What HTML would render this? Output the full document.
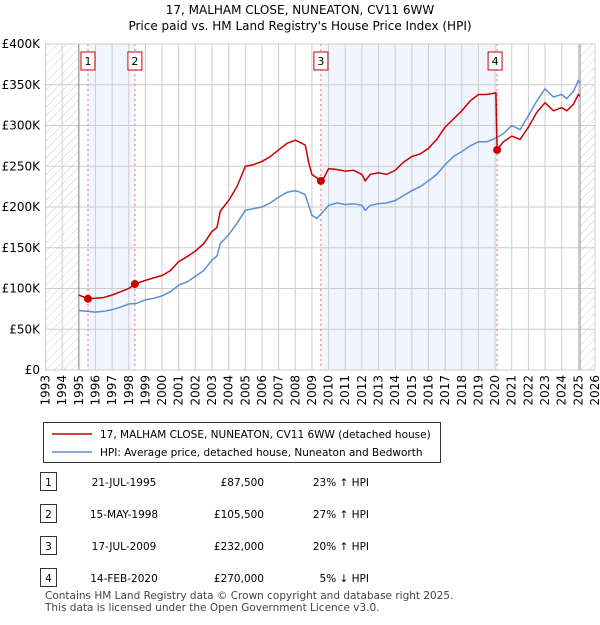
<!DOCTYPE html><html><head><meta charset="utf-8"><style>
body{margin:0;background:#fff;font-family:"Liberation Sans",sans-serif;}
svg text{font-family:"DejaVu Sans","Liberation Sans",sans-serif;}
</style></head><body>
<svg id="c" width="600" height="620" xmlns="http://www.w3.org/2000/svg"></svg>
<script>
const hpiDates=[1995,1995.5,1996,1996.5,1997,1997.5,1998,1998.5,1999,1999.5,2000,2000.5,2001,2001.5,2002,2002.5,2003,2003.3,2003.5,2004,2004.5,2005,2005.5,2006,2006.5,2007,2007.5,2008,2008.3,2008.6,2008.8,2009,2009.3,2009.7,2010,2010.5,2011,2011.5,2012,2012.2,2012.5,2013,2013.5,2014,2014.5,2015,2015.5,2016,2016.5,2017,2017.5,2018,2018.5,2019,2019.5,2020,2020.5,2021,2021.5,2022,2022.5,2023,2023.5,2024,2024.3,2024.7,2025,2025.1];
const hpiValues=[73,72,71,72,74,77,81,82,86,88,91,96,104,108,115,122,135,140,155,166,180,196,198,200,205,212,218,220,218,215,202,190,186,195,202,205,203,204,202,196,202,204,205,208,214,220,225,232,240,252,262,268,275,280,280,284,290,300,295,312,330,345,335,338,333,342,355,352];
const priceDates=[1995,1995.55,1996,1996.5,1997,1997.5,1998,1998.37,1999,1999.5,2000,2000.5,2001,2001.5,2002,2002.5,2003,2003.3,2003.5,2004,2004.5,2005,2005.5,2006,2006.5,2007,2007.5,2008,2008.3,2008.6,2008.8,2009,2009.54,2009.7,2010,2010.5,2011,2011.5,2012,2012.2,2012.5,2013,2013.5,2014,2014.5,2015,2015.5,2016,2016.5,2017,2017.5,2018,2018.5,2019,2019.5,2020.05,2020.12,2020.5,2021,2021.5,2022,2022.5,2023,2023.5,2024,2024.3,2024.7,2025,2025.1];
const priceValues=[92,87.5,88,89,92,96,100,105.5,110,113,116,122,133,139,146,155,170,175,195,208,225,250,252,256,262,270,278,282,279,276,255,240,232,235,247,246,244,245,240,232,240,242,240,245,255,262,265,272,283,298,308,318,330,338,338,340,270,280,287,283,298,316,328,318,322,318,326,338,336];
const saleDates=[1995.55,1998.37,2009.54,2020.12];
const saleValues=[87.5,105.5,232,270];
const saleLabels=["1","2","3","4"];
const yTicks=[0,50,100,150,200,250,300,350,400];
const yTickLabels=["£0","£50K","£100K","£150K","£200K","£250K","£300K","£350K","£400K"];
const years=[];for(let y=1993;y<=2026;y++)years.push(y);

const NS="http://www.w3.org/2000/svg",svg=document.getElementById('c');
const X0=45.5,X1=595,Y0=370,Y1=44;
const x=d=>X0+(d-1993)*(X1-X0)/33, y=v=>Y0-v*(Y0-Y1)/400;
function el(t,a,p){const e=document.createElementNS(NS,t);for(const k in a)e.setAttribute(k,a[k]);(p||svg).appendChild(e);return e;}
const defs=el('defs',{});const pat=el('pattern',{id:'h',width:6,height:6,patternUnits:'userSpaceOnUse',patternTransform:'rotate(45)'},defs);
el('line',{x1:0,y1:0,x2:0,y2:6,stroke:'#ccc','stroke-width':1},pat);
let t=el('text',{x:300,y:14,'text-anchor':'middle','font-size':12});t.textContent="17, MALHAM CLOSE, NUNEATON, CV11 6WW";

t=el('text',{x:300,y:30,'text-anchor':'middle','font-size':12});t.textContent="Price paid vs. HM Land Registry's House Price Index (HPI)";

for(const [a,b] of [[0,1],[2,3]]){const r=el('rect',{x:x(saleDates[a]),y:Y1,width:x(saleDates[b])-x(saleDates[a]),height:Y0-Y1,fill:'#eef3fc',opacity:0.8});
}
let r=el('rect',{x:X0,y:Y1,width:x(1995)-X0,height:Y0-Y1,fill:'url(#h)'});
r=el('rect',{x:x(2025.1),y:Y1,width:X1-x(2025.1),height:Y0-Y1,fill:'url(#h)'});
years.forEach(yr=>{const l=el('line',{x1:x(yr),x2:x(yr),y1:Y1,y2:Y0,stroke:'#ccc','stroke-width':1});
const tx=el('text',{transform:`translate(${x(yr)+4},${Y0+5}) rotate(-90)`,'text-anchor':'end','font-size':12});tx.textContent=yr;});
yTicks.forEach((v,i)=>{const l=el('line',{x1:X0,x2:X1,y1:y(v),y2:y(v),stroke:'#ccc','stroke-width':1});
const tx=el('text',{x:40,y:y(v)+4,'text-anchor':'end','font-size':12});tx.textContent=yTickLabels[i];});
let l=el('line',{x1:x(1995),x2:x(1995),y1:Y1,y2:Y0,stroke:'#888'});
l=el('line',{x1:x(2025.1),x2:x(2025.1),y1:Y1,y2:Y0,stroke:'#888'});
saleDates.forEach((d,i)=>{const v=el('line',{x1:x(d),x2:x(d),y1:Y1,y2:Y0,stroke:'#f66','stroke-dasharray':'2,3'});
const g=el('g',{});
el('rect',{x:x(d)-7-(i==3?2:0),y:52,width:14,height:18,fill:'#fff',stroke:'#c00'},g);
const tx=el('text',{x:x(d)-(i==3?2:0),y:65,'text-anchor':'middle','font-size':11},g);tx.textContent=saleLabels[i];});
const pth=(ds,vs)=>ds.map((d,i)=>(i?'L':'M')+x(d).toFixed(1)+','+y(vs[i]).toFixed(1)).join('');
let p=el('path',{d:pth(hpiDates,hpiValues),fill:'none',stroke:'#5b8ed6','stroke-width':1.5});
p=el('path',{d:pth(priceDates,priceValues),fill:'none',stroke:'#cc0000','stroke-width':1.5});
saleDates.forEach((d,i)=>{const c=el('circle',{cx:x(d),cy:y(saleValues[i]),r:4,fill:'#cc0000'});});
r=el('rect',{x:X0,y:Y1,width:X1-X0,height:Y0-Y1,fill:'none',stroke:'#ccc'});
const lg=el('g',{});
el('rect',{x:43.5,y:422.5,width:397,height:40,fill:'#fff',stroke:'#333'},lg);
el('line',{x1:52,x2:92,y1:434,y2:434,stroke:'#cc0000','stroke-width':1.5},lg);
el('line',{x1:52,x2:92,y1:452,y2:452,stroke:'#5b8ed6','stroke-width':1.5},lg);
t=el('text',{x:100,y:438,'font-size':10.5},lg);t.textContent="17, MALHAM CLOSE, NUNEATON, CV11 6WW (detached house)";
t=el('text',{x:100,y:456,'font-size':10.5},lg);t.textContent="HPI: Average price, detached house, Nuneaton and Bedworth";
const dates=["21-JUL-1995","15-MAY-1998","17-JUL-2009","14-FEB-2020"],prices=["£87,500","£105,500","£232,000","£270,000"],rel=["23% ↑ HPI","27% ↑ HPI","20% ↑ HPI","5% ↓ HPI"];
dates.forEach((d,i)=>{const ty=486+i*32;const g=el('g',{});
el('rect',{x:40.5,y:ty-13.5,width:16,height:18,fill:'#fff',stroke:'#333'},g);
let a=el('text',{x:48.5,y:ty,'text-anchor':'middle','font-size':10.5},g);a.textContent=i+1;
a=el('text',{x:124,y:ty,'text-anchor':'middle','font-size':10.5},g);a.textContent=d;
a=el('text',{x:264,y:ty,'text-anchor':'end','font-size':10.5},g);a.textContent=prices[i];
a=el('text',{x:369,y:ty,'text-anchor':'end','font-size':10.5},g);a.textContent=rel[i];});
t=el('text',{x:45,y:599,'font-size':10.5,fill:'#444'});t.textContent="Contains HM Land Registry data © Crown copyright and database right 2025.";
t=el('text',{x:45,y:611,'font-size':10.5,fill:'#444'});t.textContent="This data is licensed under the Open Government Licence v3.0.";
</script></body></html>
